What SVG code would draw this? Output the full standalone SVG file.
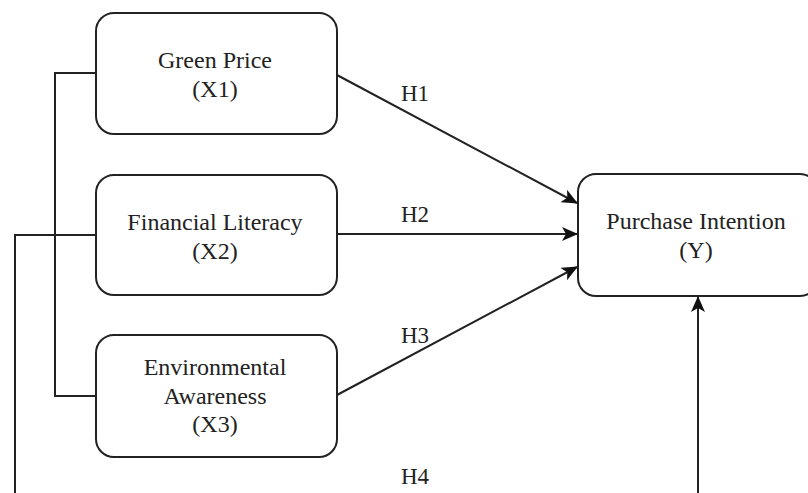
<svg xmlns="http://www.w3.org/2000/svg" width="808" height="493" viewBox="0 0 808 493">
<defs>
<style>
.box{fill:#fff;stroke:#222;stroke-width:2}
.t{font-family:"Liberation Serif","Times New Roman",serif;font-size:24px;fill:#222;text-anchor:middle}
.lbl{font-family:"Liberation Serif","Times New Roman",serif;font-size:23px;fill:#222}
.ln{fill:none;stroke:#222;stroke-width:2}
</style>
<marker id="arr" viewBox="0 0 16 14" refX="15" refY="7" markerWidth="16" markerHeight="14" markerUnits="userSpaceOnUse" orient="auto">
<path d="M0,0 L16,7 L0,14 L4,7 Z" fill="#111"/>
</marker>
</defs>
<rect width="808" height="493" fill="#fff"/>
<g id="connectors">
<polyline class="ln" points="96,73 55,73 55,396 96,396"/>
<polyline class="ln" points="96,235 15,235 15,493"/>
<line class="ln" x1="337" y1="75" x2="577" y2="203" marker-end="url(#arr)"/>
<line class="ln" x1="337" y1="234" x2="577" y2="234" marker-end="url(#arr)"/>
<line class="ln" x1="337" y1="395" x2="577" y2="267" marker-end="url(#arr)"/>
<line class="ln" x1="698" y1="493" x2="698" y2="297" marker-end="url(#arr)"/>
<text class="lbl" x="401" y="101">H1</text>
<text class="lbl" x="401" y="222">H2</text>
<text class="lbl" x="401" y="343">H3</text>
<text class="lbl" x="401" y="484">H4</text>
</g>
<g id="x1">
<rect class="box" x="96" y="13" width="241" height="121" rx="18"/>
<text class="t" x="215" y="68">Green Price</text>
<text class="t" x="215" y="97">(X1)</text>
</g>
<g id="x2">
<rect class="box" x="96" y="175" width="241" height="120" rx="18"/>
<text class="t" x="215" y="230">Financial Literacy</text>
<text class="t" x="215" y="259">(X2)</text>
</g>
<g id="x3">
<rect class="box" x="96" y="335" width="241" height="122" rx="18"/>
<text class="t" x="215" y="375">Environmental</text>
<text class="t" x="215" y="404">Awareness</text>
<text class="t" x="215" y="432">(X3)</text>
</g>
<g id="y">
<rect class="box" x="578" y="174" width="240" height="122" rx="18"/>
<text class="t" x="696" y="229">Purchase Intention</text>
<text class="t" x="696" y="258">(Y)</text>
</g>
</svg>
